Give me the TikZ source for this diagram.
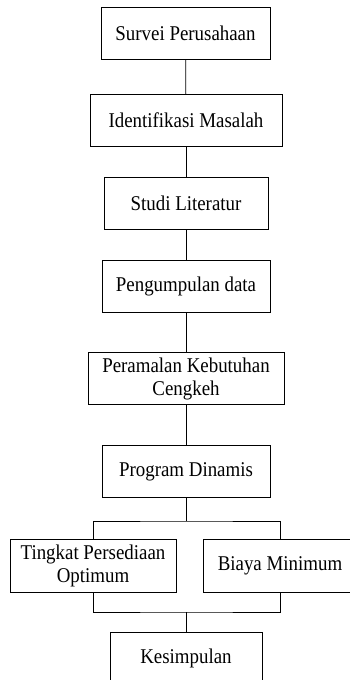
\documentclass[tikz,border=0pt]{standalone}
\usepackage{fontspec}
\setmainfont[FakeStretch=0.9]{Liberation Serif}
\usetikzlibrary{positioning}

\tikzset{
    stepbox/.style={draw, rectangle, line width=0.8pt, align=center, inner sep=0pt,
        minimum height=52pt, font=\fontsize{21}{23}\selectfont},
    link/.style={line width=0.8pt}
}

\begin{document}
\begin{tikzpicture}[x=1pt, y=-1pt]
    \useasboundingbox (0,0) rectangle (350,680);

    \node[stepbox, minimum width=169pt] (survei) at (185.5,33) {Survei Perusahaan};
    \node[stepbox, minimum width=192pt] (identifikasi) at (186,120.5) {Identifikasi Masalah};
    \node[stepbox, minimum width=164pt] (studi) at (186,203.5) {Studi Literatur};
    \node[stepbox, minimum width=168pt] (pengumpulan) at (186,286) {Pengumpulan data};
    \node[stepbox, minimum width=196pt] (peramalan) at (186,378.5) {Peramalan Kebutuhan\\Cengkeh};
    \node[stepbox, minimum width=168pt] (program) at (186,471.5) {Program Dinamis};

    \node[stepbox, minimum width=166pt, minimum height=53pt] (tingkat) at (93,565.5) {Tingkat Persediaan\\Optimum};
    \node[stepbox, minimum width=154pt, minimum height=53pt] (biaya) at (280,565.5) {Biaya Minimum};

    \node[stepbox, minimum width=152pt] (kesimpulan) at (186,658) {Kesimpulan};

    \coordinate (split) at (186,521);
    \coordinate (join) at (186,612);

    \draw[link] (survei) -- (identifikasi);
    \draw[link] (identifikasi) -- (studi);
    \draw[link] (studi) -- (pengumpulan);
    \draw[link] (pengumpulan) -- (peramalan);
    \draw[link] (peramalan) -- (program);

    \draw[link] (program) -- (split);
    \draw[link] (tingkat.north) |- (split) -| (biaya.north);
    \draw[link] (tingkat.south) |- (join) -| (biaya.south);
    \draw[link] (join) -- (kesimpulan);
\end{tikzpicture}
\end{document}
